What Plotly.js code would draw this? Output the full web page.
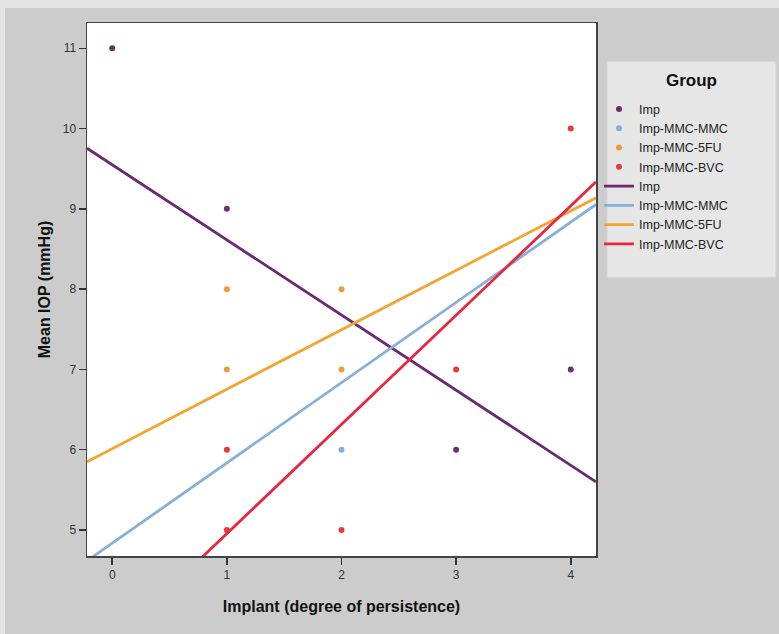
<!DOCTYPE html>
<html>
<head>
<meta charset="utf-8">
<script src="https://cdn.plot.ly/plotly-3.0.1.min.js"></script>
<style>
  html, body { margin: 0; padding: 0; background: #e4e4e4; width: 779px; height: 634px; overflow: hidden; }
  #chart { position: absolute; left: 5px; top: 8px; width: 774px; height: 626px; }
</style>
</head>
<body>
<div id="chart"></div>
<script>
// Group names
const groups = ["Imp", "Imp-MMC-MMC", "Imp-MMC-5FU", "Imp-MMC-BVC"];

// Observed points (implant persistence, mean IOP)
const impX = [0, 1, 3, 4];
const impY = [11, 9, 6, 7];
const mmcX = [2];
const mmcY = [6];
const fuX = [1, 1, 2, 2];
const fuY = [8, 7, 8, 7];
const bvcX = [1, 1, 2, 3, 4];
const bvcY = [6, 5, 5, 7, 10];

// Fit lines, evaluated at the ends of the x range
const fitX = [-0.22, 4.22];
const impFit = [9.755, 5.60];
const mmcFit = [4.616, 9.055];
const fuFit = [5.85, 9.137];
const bvcFit = [3.295, 9.336];

const markerColors = ["#6e2e70", "#7fb0d8", "#ec9c3c", "#e83a3a"];
const lineColors = ["#6a2a72", "#86b0d8", "#f3a433", "#e8263e"];

const ptsX = [impX, mmcX, fuX, bvcX];
const ptsY = [impY, mmcY, fuY, bvcY];
const fits = [impFit, mmcFit, fuFit, bvcFit];

const traces = [];
groups.forEach((g, i) => {
  traces.push({
    type: "scatter", mode: "markers", name: g,
    x: ptsX[i], y: ptsY[i],
    marker: { color: markerColors[i], size: 6 },
    cliponaxis: true
  });
});
groups.forEach((g, i) => {
  traces.push({
    type: "scatter", mode: "lines", name: g,
    x: fitX, y: fits[i],
    line: { color: lineColors[i], width: 2.8 }
  });
});

const tickFont = { family: "Arial, Liberation Sans, sans-serif", size: 12, color: "#333" };
const titleFont = { family: "Arial, Liberation Sans, sans-serif", size: 16, color: "#111", weight: "bold" };

const layout = {
  width: 774, height: 626,
  paper_bgcolor: "#cccccc",
  plot_bgcolor: "#ffffff",
  margin: { l: 82, r: 183, t: 15, b: 78 },
  showlegend: true,
  xaxis: {
    range: [-0.22, 4.22],
    tickvals: [0, 1, 2, 3, 4],
    ticktext: ["0", "1", "2", "3", "4"],
    ticks: "outside", ticklen: 7, tickwidth: 1.5, tickcolor: "#333",
    showline: true, linecolor: "#444", linewidth: 1.5, mirror: true,
    showgrid: false, zeroline: false,
    tickfont: tickFont,
    title: { text: "<b>Implant (degree of persistence)</b>", font: titleFont, standoff: 20 }
  },
  yaxis: {
    range: [4.676, 11.315],
    tickvals: [5, 6, 7, 8, 9, 10, 11],
    ticktext: ["5", "6", "7", "8", "9", "10", "11"],
    ticks: "outside", ticklen: 7, tickwidth: 1.5, tickcolor: "#333",
    showline: true, linecolor: "#444", linewidth: 1.5, mirror: true,
    showgrid: false, zeroline: false,
    tickfont: tickFont,
    title: { text: "<b>Mean IOP (mmHg)</b>", font: titleFont, standoff: 8 }
  },
  shapes: [{
    type: "rect", xref: "paper", yref: "paper", layer: "below",
    x0: 1.0216, x1: 1.3536, y0: 0.5232, y1: 0.9282,
    fillcolor: "#e6e6e6", line: { color: "#d6d6d6", width: 1 }
  }],
  annotations: [{
    xref: "paper", yref: "paper", x: 1.1886, y: 0.893,
    xanchor: "center", yanchor: "middle", showarrow: false,
    text: "<b>Group</b>",
    font: { family: "Arial, Liberation Sans, sans-serif", size: 17, color: "#111" }
  }],
  legend: {
    x: 1.0059, y: 0.866, xanchor: "left", yanchor: "top",
    bgcolor: "rgba(0,0,0,0)", borderwidth: 0,
    font: { family: "Arial, Liberation Sans, sans-serif", size: 12.5, color: "#222" },
    tracegroupgap: 0,
    itemwidth: 30
  }
};

Plotly.newPlot("chart", traces, layout, { displayModeBar: false, staticPlot: true });
</script>
</body>
</html>
